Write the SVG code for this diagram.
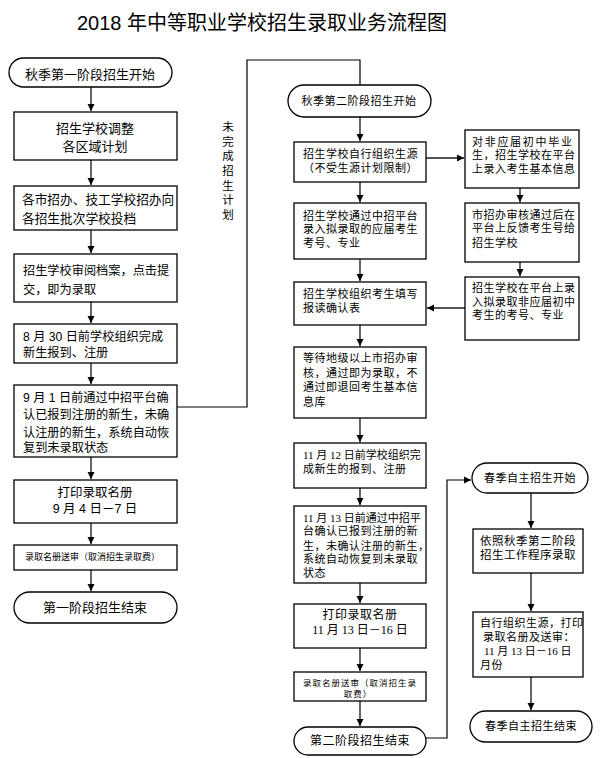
<svg xmlns="http://www.w3.org/2000/svg" width="600" height="758" viewBox="0 0 600 758">
<style>
.bx{fill:#fff;stroke:#000;stroke-width:1.3}
.t{font-family:"Liberation Sans","Noto Sans CJK SC",sans-serif;fill:#000}
.s{font-family:"Liberation Serif","Noto Sans CJK SC",serif;fill:#000;font-size:11px;letter-spacing:0.5px}
.c{text-anchor:middle}
.l13{font-size:13px}
.n0{letter-spacing:0}
.cg{fill:none;stroke:#555;stroke-width:1.8}
.ck{fill:none;stroke:#000;stroke-width:1.2}
</style>
<defs>
<marker id="ah" markerUnits="userSpaceOnUse" markerWidth="8" markerHeight="8" refX="7" refY="4" orient="auto">
<path d="M0,0.5 L7,4 L0,7.5 Z" fill="#000"/>
</marker>
</defs>
<rect width="600" height="758" fill="#fff"/>
<text class="t" x="262" y="30" font-size="20" text-anchor="middle">2018 年中等职业学校招生录取业务流程图</text>

<g id="connectors">
<line class="cg" x1="91" y1="87" x2="91" y2="111" marker-end="url(#ah)"/>
<line class="cg" x1="91" y1="160" x2="91" y2="185" marker-end="url(#ah)"/>
<line class="cg" x1="91" y1="230" x2="91" y2="253" marker-end="url(#ah)"/>
<line class="cg" x1="91" y1="302" x2="91" y2="323" marker-end="url(#ah)"/>
<line class="cg" x1="91" y1="363" x2="91" y2="384" marker-end="url(#ah)"/>
<line class="cg" x1="91" y1="457" x2="91" y2="479" marker-end="url(#ah)"/>
<line class="cg" x1="91" y1="523" x2="91" y2="544" marker-end="url(#ah)"/>
<line class="cg" x1="91" y1="570" x2="91" y2="591" marker-end="url(#ah)"/>
<polyline class="ck" points="177,407 247,407 247,60 360,60 360,85"/>
<line class="ck" x1="360" y1="117" x2="360" y2="141" marker-end="url(#ah)"/>
<line class="ck" x1="360" y1="182" x2="360" y2="202" marker-end="url(#ah)"/>
<line class="ck" x1="360" y1="259" x2="360" y2="281" marker-end="url(#ah)"/>
<line class="ck" x1="360" y1="325" x2="360" y2="346" marker-end="url(#ah)"/>
<line class="ck" x1="360" y1="418" x2="360" y2="442" marker-end="url(#ah)"/>
<line class="ck" x1="360" y1="488" x2="360" y2="505" marker-end="url(#ah)"/>
<line class="ck" x1="360" y1="583" x2="360" y2="603" marker-end="url(#ah)"/>
<line class="ck" x1="360" y1="648" x2="360" y2="671" marker-end="url(#ah)"/>
<line class="ck" x1="360" y1="701" x2="360" y2="726" marker-end="url(#ah)"/>
<line class="cg" x1="426" y1="158" x2="464" y2="158" marker-end="url(#ah)"/>
<line class="cg" x1="465" y1="308" x2="427" y2="308" marker-end="url(#ah)"/>
<line class="cg" x1="520" y1="188" x2="520" y2="202" marker-end="url(#ah)"/>
<line class="cg" x1="520" y1="262" x2="520" y2="276" marker-end="url(#ah)"/>
<polyline class="ck" points="426,738 447,738 447,480 471,480" marker-end="url(#ah)"/>
<line class="cg" x1="531" y1="493" x2="531" y2="528" marker-end="url(#ah)"/>
<line class="cg" x1="531" y1="573" x2="531" y2="611" marker-end="url(#ah)"/>
<line class="cg" x1="531" y1="677" x2="531" y2="710" marker-end="url(#ah)"/>
</g>

<text class="t" font-size="11.5" text-anchor="middle"><tspan x="228" y="131">未</tspan><tspan x="228" y="146">完</tspan><tspan x="228" y="160">成</tspan><tspan x="228" y="175">招</tspan><tspan x="228" y="190">生</tspan><tspan x="228" y="204">计</tspan><tspan x="228" y="219">划</tspan></text>

<g id="n1"><rect class="bx" x="9" y="58" width="163" height="29" rx="14.5"/><text class="t l13 c" x="90" y="79">秋季第一阶段招生开始</text></g>
<g id="n2"><rect class="bx" x="14" y="112" width="163" height="48"/><text class="t l13 c"><tspan x="95" y="133">招生学校调整</tspan><tspan x="95" y="151">各区域计划</tspan></text></g>
<g id="n3"><rect class="bx" x="14" y="186" width="163" height="44"/><text class="t" font-size="12.7"><tspan x="22" y="204">各市招办、技工学校招办向</tspan><tspan x="22" y="223">各招生批次学校投档</tspan></text></g>
<g id="n4"><rect class="bx" x="14" y="254" width="163" height="48"/><text class="t" font-size="12.2"><tspan x="23" y="275">招生学校审阅档案，点击提</tspan><tspan x="23" y="294">交，即为录取</tspan></text></g>
<g id="n5"><rect class="bx" x="14" y="324" width="163" height="39"/><text class="t" font-size="12.2"><tspan x="23" y="341">8 月 30 日前学校组织完成</tspan><tspan x="23" y="357">新生报到、注册</tspan></text></g>
<g id="n6"><rect class="bx" x="14" y="385" width="163" height="72"/><text class="t" font-size="12.2"><tspan x="23" y="402">9 月 1 日前通过中招平台确</tspan><tspan x="23" y="419">认已报到注册的新生，未确</tspan><tspan x="23" y="437">认注册的新生，系统自动恢</tspan><tspan x="23" y="452">复到未录取状态</tspan></text></g>
<g id="n7"><rect class="bx" x="14" y="480" width="163" height="43"/><text class="t c" font-size="12.5"><tspan x="95" y="497">打印录取名册</tspan><tspan x="95" y="513">9 月 4 日－7 日</tspan></text></g>
<g id="n8"><rect class="bx" x="14" y="545" width="163" height="25"/><text class="t" font-size="9" x="25" y="560">录取名册送审（取消招生录取费）</text></g>
<g id="n9"><rect class="bx" x="14" y="592" width="163" height="31" rx="15.5"/><text class="t l13 c" x="95" y="612">第一阶段招生结束</text></g>

<g id="m1"><rect class="bx" x="288" y="85" width="143" height="32" rx="16"/><text class="s c" x="359" y="105">秋季第二阶段招生开始</text></g>
<g id="m2"><rect class="bx" x="294" y="142" width="132" height="40"/><text class="s"><tspan x="303" y="158">招生学校自行组织生源</tspan><tspan x="303" y="172">（不受生源计划限制）</tspan></text></g>
<g id="m3"><rect class="bx" x="294" y="203" width="132" height="56"/><text class="s"><tspan x="303" y="220">招生学校通过中招平台</tspan><tspan x="303" y="233">录入拟录取的应届考生</tspan><tspan x="303" y="247">考号、专业</tspan></text></g>
<g id="m4"><rect class="bx" x="294" y="282" width="132" height="43"/><text class="s"><tspan x="303" y="298">招生学校组织考生填写</tspan><tspan x="303" y="312">报读确认表</tspan></text></g>
<g id="m5"><rect class="bx" x="294" y="347" width="132" height="71"/><text class="s"><tspan x="303" y="362">等待地级以上市招办审</tspan><tspan x="303" y="377">核，通过即为录取，不</tspan><tspan x="303" y="391">通过即退回考生基本信</tspan><tspan x="303" y="406">息库</tspan></text></g>
<g id="m6"><rect class="bx" x="294" y="443" width="132" height="45"/><text class="s"><tspan class="n0" x="303" y="459">11 月 12 日前学校组织完</tspan><tspan x="303" y="473">成新生的报到、注册</tspan></text></g>
<g id="m7"><rect class="bx" x="294" y="506" width="132" height="77"/><text class="s"><tspan class="n0" x="303" y="522">11 月 13 日前通过中招平</tspan><tspan x="303" y="535">台确认已报到注册的新</tspan><tspan x="303" y="550">生，未确认注册的新生，</tspan><tspan x="303" y="563">系统自动恢复到未录取</tspan><tspan x="303" y="577">状态</tspan></text></g>
<g id="m8"><rect class="bx" x="294" y="604" width="132" height="44"/><text class="s c"><tspan x="360" y="619" style="font-size:12px">打印录取名册</tspan><tspan class="n0" x="360" y="634" style="font-size:12px">11 月 13 日－16 日</tspan></text></g>
<g id="m9"><rect class="bx" x="294" y="672" width="132" height="29"/><text class="s c" style="font-size:8.5px;letter-spacing:1px"><tspan x="360" y="686">录取名册送审（取消招生录</tspan><tspan x="358" y="697">取费）</tspan></text></g>
<g id="m10"><rect class="bx" x="294" y="727" width="132" height="28" rx="14"/><text class="s c" style="font-size:12px" x="360" y="745">第二阶段招生结束</text></g>

<g id="r1"><rect class="bx" x="465" y="130" width="114" height="58"/><text class="s"><tspan x="472" y="146" letter-spacing="1.7">对非应届初中毕业</tspan><tspan x="472" y="159">生，招生学校在平台</tspan><tspan x="472" y="173">上录入考生基本信息</tspan></text></g>
<g id="r2"><rect class="bx" x="465" y="203" width="114" height="59"/><text class="s"><tspan x="472" y="219">市招办审核通过后在</tspan><tspan x="472" y="232">平台上反馈考生号给</tspan><tspan x="472" y="247">招生学校</tspan></text></g>
<g id="r3"><rect class="bx" x="465" y="277" width="114" height="63"/><text class="s"><tspan x="472" y="292">招生学校在平台上录</tspan><tspan x="472" y="306">入拟录取非应届初中</tspan><tspan x="472" y="319">考生的考号、专业</tspan></text></g>
<g id="r4"><rect class="bx" x="472" y="463" width="116" height="30" rx="15"/><text class="s c" x="530" y="482">春季自主招生开始</text></g>
<g id="r5"><rect class="bx" x="473" y="529" width="110" height="44"/><text class="s" style="font-size:11.5px"><tspan x="480" y="545">依照秋季第二阶段</tspan><tspan x="480" y="559">招生工作程序录取</tspan></text></g>
<g id="r6"><rect class="bx" x="473" y="612" width="110" height="65"/><text class="s"><tspan x="480" y="627">自行组织生源，打印</tspan><tspan x="483" y="641">录取名册及送审：</tspan><tspan class="n0" x="484" y="655">11 月 13 日－16 日</tspan><tspan x="480" y="669">月份</tspan></text></g>
<g id="r7"><rect class="bx" x="470" y="711" width="122" height="31" rx="15.5"/><text class="s c" x="531" y="730">春季自主招生结束</text></g>
</svg>
